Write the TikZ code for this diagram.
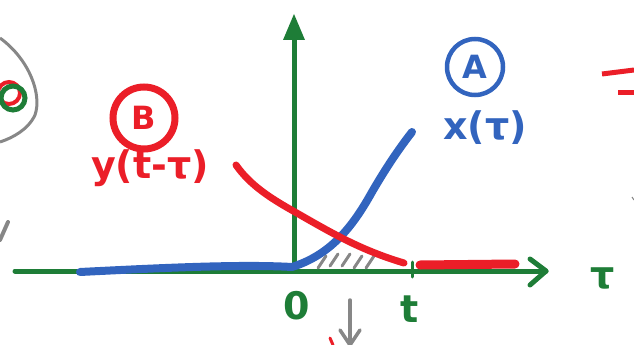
\documentclass[tikz,border=0pt]{standalone}
\usepackage{fontspec}
\setmainfont{DejaVu Sans}
\usetikzlibrary{arrows.meta}
\definecolor{pg}{RGB}{30,125,55}
\definecolor{pr}{RGB}{235,30,40}
\definecolor{pb}{RGB}{50,100,190}
\definecolor{pgr}{RGB}{135,135,135}
\tikzset{
  axis/.style={pg,line width=5pt,line cap=round,line join=round},
  bluecurve/.style={pb,line width=8pt,line cap=round,line join=round},
  redcurve/.style={pr,line width=7pt,line cap=round,line join=round},
  hand/.style={font=\fontsize{38}{38}\selectfont\bfseries},
  badge/.style={circle,minimum size=54pt,inner sep=0pt,font=\fontsize{32}{32}\selectfont\bfseries},
  graystroke/.style={pgr,line width=3pt,line cap=round}
}
\begin{document}
\begin{tikzpicture}[x=1pt,y=-1pt]
\useasboundingbox (0,0) rectangle (634,345);
% axes
\coordinate (hs) at (15,271);
\coordinate (he) at (546,271);
\coordinate (o) at (294,271);
\coordinate (vt) at (294,14);
\draw[axis] (hs) -- (he);
\draw[axis] (530,259) -- (he) -- (530,285);
\draw[axis] (o) -- (294,38);
\fill[pg] (vt) -- (305,40) -- (283,40) -- cycle;
\draw[pg,line width=3pt,line cap=round] (412,262) -- (412,277);
% labels
\node[hand,pg] (tau) at (603,278) {τ};
\node[hand,pg] (zero) at (297,306) {0};
\node[hand,pg] (tl) at (410,309) {t};
% shaded area
\foreach \a/\b in {318/268,330/266,342/266,354/268,366/268}{
  \draw[graystroke] (\a,\b) -- (\a+8,\b-12);
}
% blue curve x(tau)
\draw[bluecurve] (80,272) .. controls (160,268) and (240,264) .. (292,267)
  .. controls (330,255) and (352,228) .. (372,192)
  .. controls (386,168) and (398,150) .. (412,132);
% red curve y(t-tau)
\draw[redcurve] (236,165) .. controls (250,185) and (270,198) .. (295,212)
  .. controls (330,232) and (360,250) .. (404,263);
\draw[redcurve,line width=9pt] (420,265) -- (515,264);
% badges
\node[badge,draw=pr,pr,line width=7pt,minimum size=62pt] (B) at (144,118) {B};
\node[hand,pr] (ylab) at (150,168) {y(t-τ)};
\node[badge,draw=pb,pb,line width=4.5pt,minimum size=56pt] (A) at (475,67) {A};
\node[hand,pb] (xlab) at (485,128) {x(τ)};
% gray arrow at bottom
\coordinate (ga) at (350,300);
\coordinate (gb) at (350,345);
\draw[graystroke,line width=3.5pt] (ga) -- (gb);
\draw[graystroke,line width=3.5pt] (340,330) -- (gb) -- (360,330);
\draw[pr,line width=3pt,line cap=round] (330,338) -- (333,345);
% left fragments
\draw[pgr,line width=3pt] (0,38) .. controls (30,60) and (42,95) .. (35,115)
  .. controls (28,130) and (12,138) .. (0,142);
\draw[pr,line width=4pt] (9,93) circle (11pt);
\draw[pg,line width=5pt] (13,98) circle (12pt);
\draw[graystroke,line width=4pt] (8,222) -- (0,240);
% right fragments
\draw[pr,line width=5pt] (602,74) -- (634,70);
\draw[pr,line width=5pt] (618,92) -- (634,92);
\draw[pgr,line width=1pt] (632,197) -- (634,200);
\end{tikzpicture}
\end{document}
